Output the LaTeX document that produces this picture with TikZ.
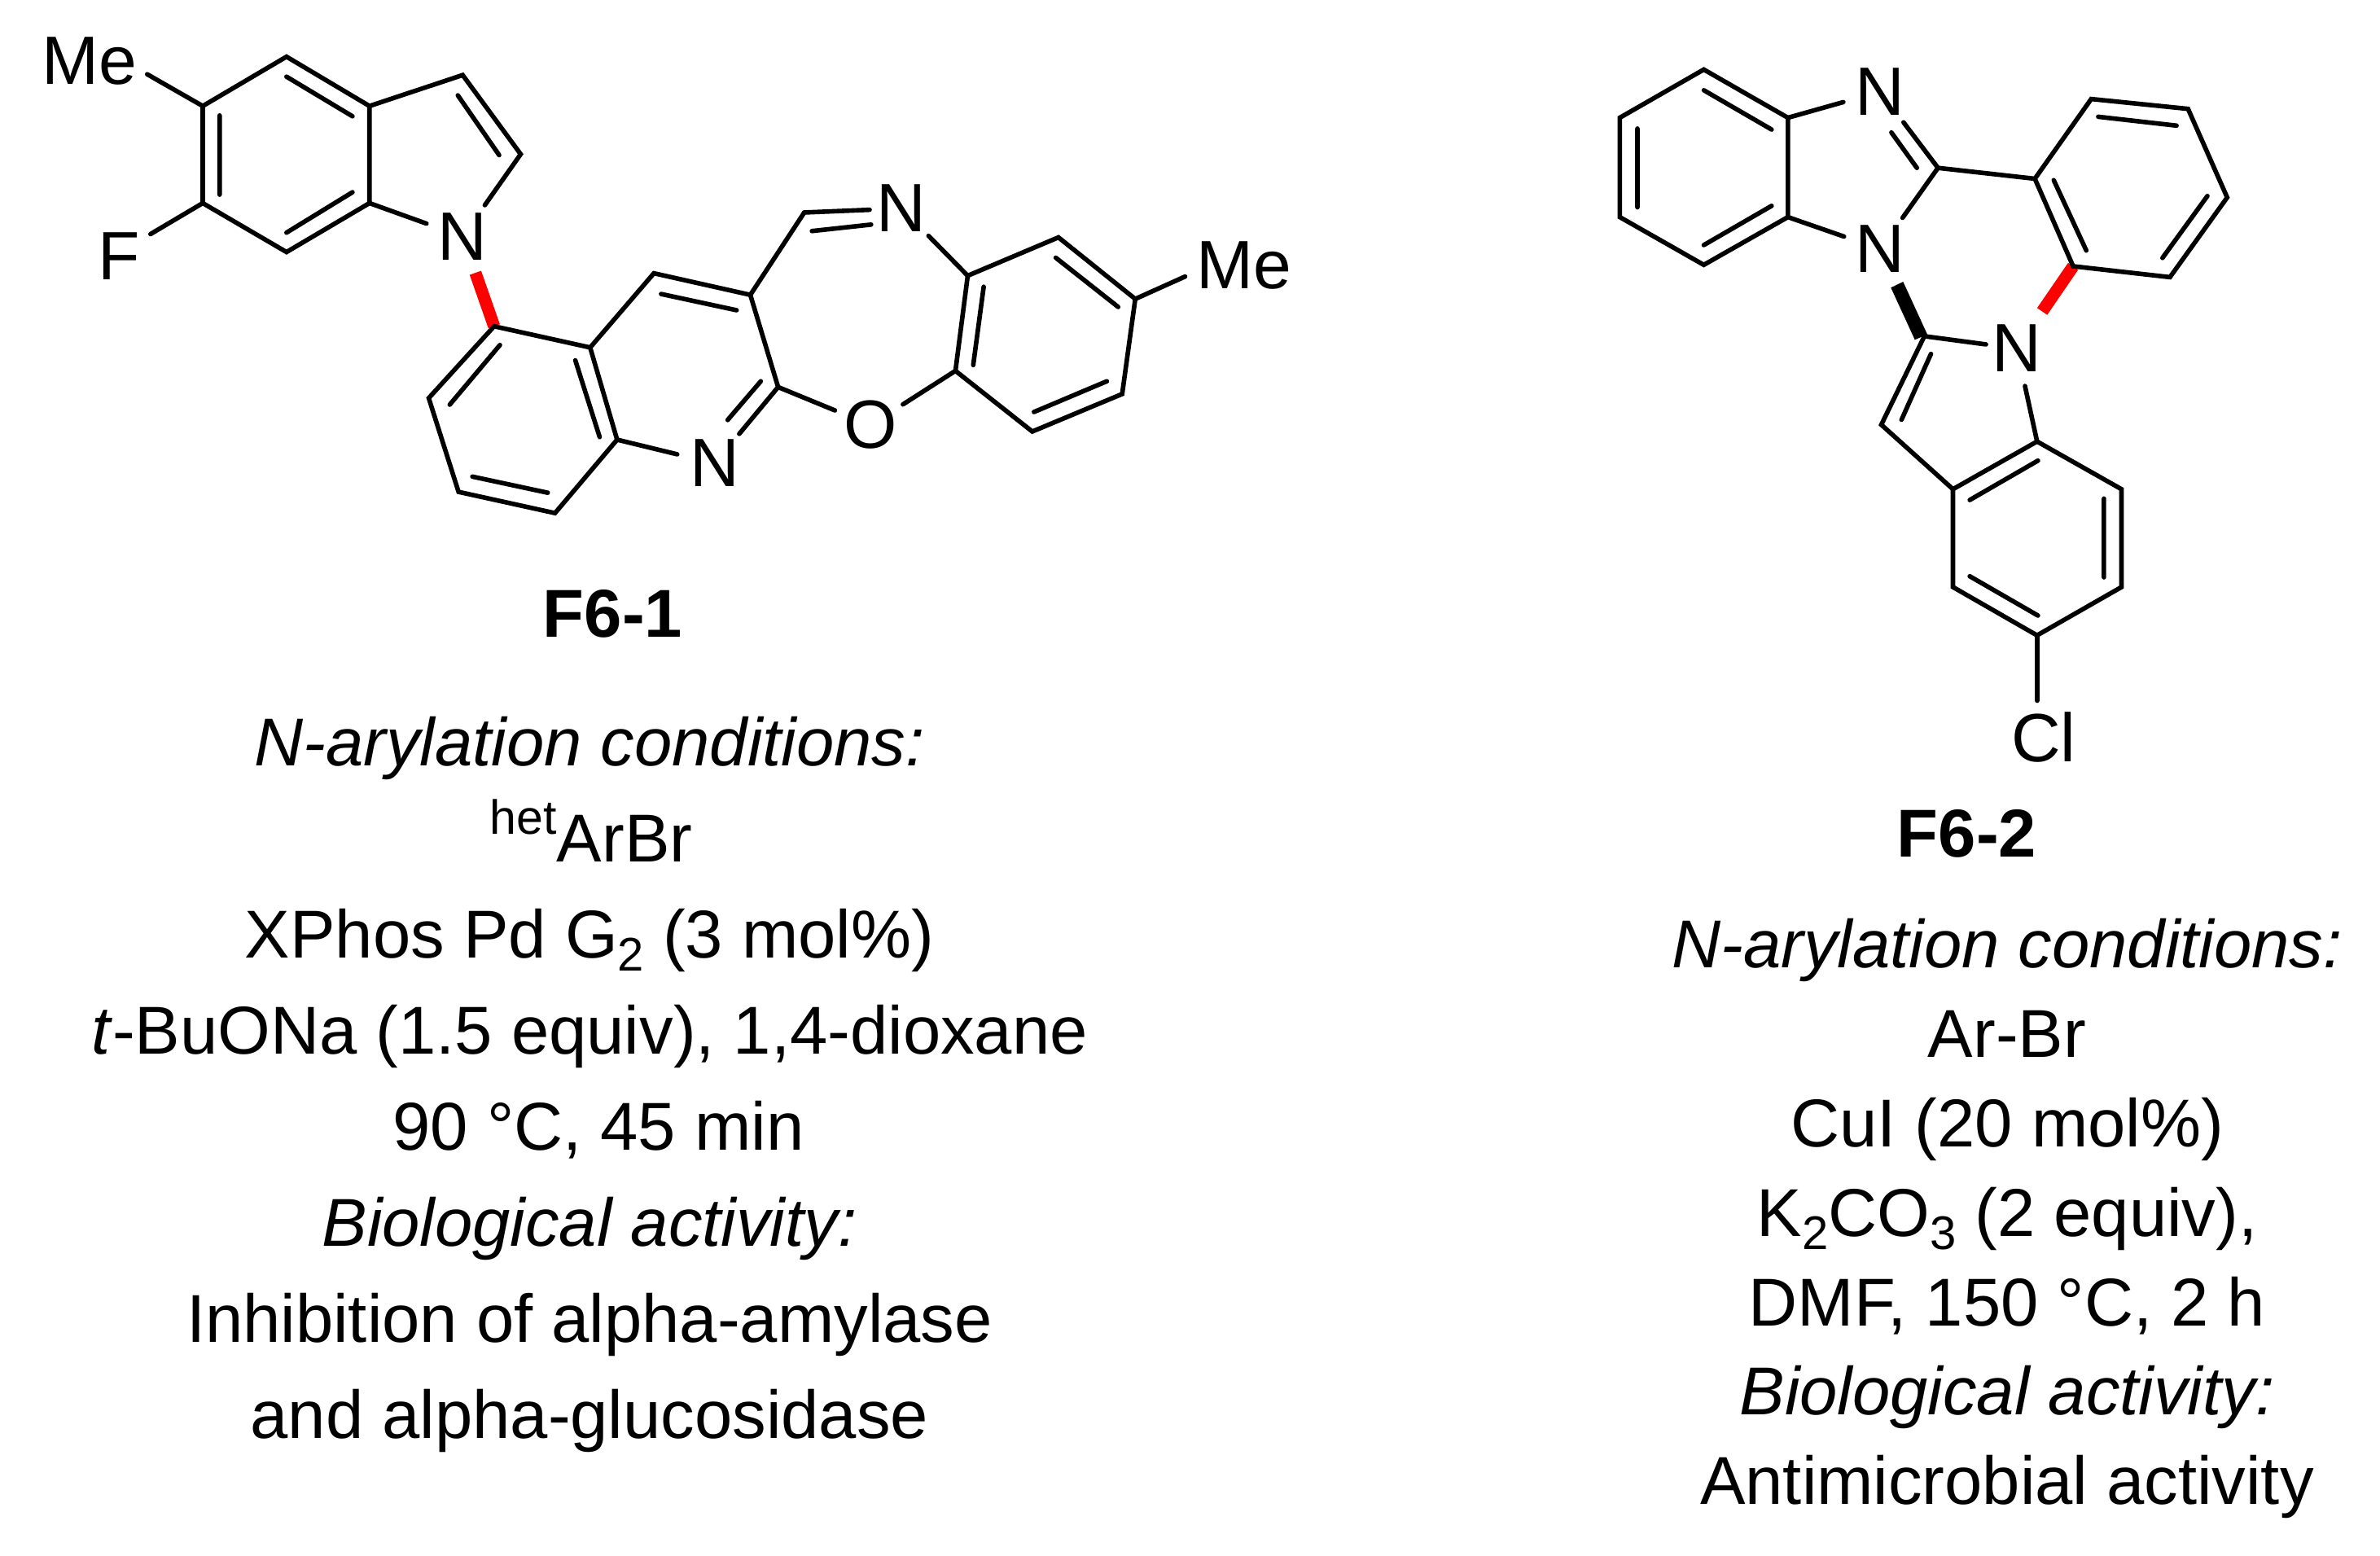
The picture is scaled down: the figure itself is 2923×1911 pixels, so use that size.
\documentclass[tikz,border=0pt]{standalone}
\usepackage{fontspec}
\setmainfont{Liberation Sans}
\newcommand{\lowdigit}[1]{\raisebox{-.2em}{\fontsize{58}{60}\selectfont #1}}
\newcommand{\highword}[1]{\raisebox{.4em}{\fontsize{59}{60}\selectfont #1}}
\tikzset{
  bond/.style={line width=5.6pt,line join=miter,line cap=round},
  inner/.style={line width=5.6pt,line cap=round},
  redbond/.style={line width=15pt,draw=red},
  atom/.style={circle,inner sep=0pt,minimum size=94pt,font=\fontsize{84}{90}\selectfont},
  lab/.style={inner sep=0pt,font=\fontsize{84}{90}\selectfont},
  txt/.style={inner sep=0pt,anchor=base,font=\fontsize{83.2}{90}\selectfont},
  cmpd/.style={inner sep=0pt,anchor=base,font=\fontsize{83.2}{90}\selectfont\bfseries},
}
\begin{document}
\begin{tikzpicture}[x=1pt,y=-1pt]
\useasboundingbox (0,0) rectangle (2923,1911);
% ---- F6-1 ----
\begin{scope}[xscale=1.0035,xshift=-0.9pt,yscale=1.0016]
\foreach \n/\x/\y in {a1/249/130,a2/351.5/69.5,a3/453/130,a4/453/249,a5/351.5/309,a6/249/249,
  p3/567/92,p2/638/189,
  b1/605.5/400,b2/723/426,b3/756/539,b4/680/629,b5/562/603,b6/525.5/488,
  c1/801/335,c2/919/361.5,c3/953/474.5,c4/985/260.5,
  d1/1185/338,d2/1296/291,d3/1390/366.5,d4/1374/483,d5/1264/529,d6/1170/454.6,
  me1end/181/91,fend/185/287,me2end/1451/339}
  {\coordinate (\n) at (\x,\y);}
\node[atom] (N1) at (567,290) {N};
\node[atom] (N2) at (875.3,568) {N};
\node[atom] (N3) at (1104,255.5) {N};
\node[atom] (O1) at (1066,521) {O};
\node[lab] (Me1) at (110,75) {Me};
\node[lab] (F1) at (147,314) {F};
\node[lab] (Me2) at (1523,325) {Me};
\draw[redbond] (N1)--(b1);
\draw[bond] (a1)--(a2)--(a3)--(a4)--(a5)--(a6)--cycle;
\draw[bond] (a1)--(me1end) (a6)--(fend);
\draw[bond] (a3)--(p3)--(p2)--(N1) (a4)--(N1);
\draw[bond] (b1)--(b2)--(b3)--(b4)--(b5)--(b6)--cycle;
\draw[bond] (b2)--(c1)--(c2)--(c3)--(N2) (b3)--(N2);
\draw[bond] (c2)--(c4);
\draw[bond,shorten >=-8pt] (c4)--(N3);
\draw[bond] (c3)--(O1);
\draw[bond] (N3)--(d1) (O1)--(d6);
\draw[bond] (d1)--(d2)--(d3)--(d4)--(d5)--(d6)--cycle;
\draw[bond] (d3)--(me2end);
\draw[inner] (351.5,94)--(432.3,142.6) (269.7,141.6)--(269.7,238.7) (432.3,235.7)--(351.5,285.3) (561.2,116.9)--(611.8,190.2);
\draw[inner] (810,360.5)--(902.4,380.4) (705,441.8)--(734.8,535.9) (612.8,423)--(551.3,496.2) (671.3,604.2)--(579,584.4);
\draw[inner] (932,467.5)--(891.4,515) (994.6,283.3)--(1067,275.4);
\draw[inner] (1204.8,351.6)--(1192,447.7) (1293,316)--(1369.4,376.4) (1355.5,467.5)--(1266.3,505.2);
\end{scope}
\node[cmpd] (t1) at (752.5,782) {F6-1};
\node[txt] (t2) at (724,940) {\itshape N-arylation conditions:};
\node[txt] (t3) at (726,1058) {\highword{het}ArBr};
\node[txt] (t4) at (724,1176) {XPhos Pd G\lowdigit{2} (3 mol\%)};
\node[txt] (t5) at (724,1294) {\textit{t}-BuONa (1.5 equiv), 1,4-dioxane};
\node[txt] (t6) at (735,1412) {90 °C, 45 min};
\node[txt] (t7) at (724,1530) {\itshape Biological activity:};
\node[txt] (t8) at (724,1648) {Inhibition of alpha-amylase};
\node[txt] (t9) at (724,1766) {and alpha-glucosidase};
% ---- F6-2 ----
\begin{scope}[shift={(1.5,1)}]
\foreach \n/\x/\y in {e1/2091/84.4,e2/1987.8/143.6,e3/1987.8/265.6,e4/2091/324.3,e5/2194.3/265.6,e6/2194.3/143.6,
  f1/2378.6/205.2,
  g1/2497.6/218.5,g2/2566.8/120.6,g3/2685.7/132.7,g4/2733.8/241.5,g5/2663.5/339.4,g6/2544.6/326,
  h1/2361.9/411.9,h2/2309/520.6,h3/2397/599.8,
  i1/2500.3/541.2,i2/2604/599.8,i3/2604/720,i4/2500.3/779.3,i5/2397/720,
  clend/2500.3/859.5,w1/2320.8/352.3,w2/2335.8/345,w3/2365.5/409.7,w4/2350.2/416.3}
  {\coordinate (\n) at (\x,\y);}
\node[atom] (N4) at (2307.8,111.6) {N};
\node[atom] (N5) at (2307.8,305) {N};
\node[atom] (N6) at (2475.4,427) {N};
\node[lab] (Cl1) at (2508.2,904) {Cl};
\draw[redbond,shorten >=8pt] (g6)--(N6);
\draw[bond] (e1)--(e2)--(e3)--(e4)--(e5)--(e6)--cycle;
\draw[bond] (e6)--(N4) (e5)--(N5);
\draw[bond] (N4)--(f1)--(N5) (f1)--(g1);
\draw[bond] (g1)--(g2)--(g3)--(g4)--(g5)--(g6)--cycle;
\fill (w1)--(w2)--(w3)--(w4)--cycle;
\draw[bond,shorten >=-9pt] (h1)--(N6);
\draw[bond] (h1)--(h2)--(h3) (N6)--(i1);
\draw[bond] (h3)--(i1)--(i2)--(i3)--(i4)--(i5)--cycle;
\draw[bond] (i4)--(clend);
\draw[inner] (2091,109.8)--(2174.3,158.1) (2009.5,156.9)--(2009.5,253.6) (2091,300)--(2174.3,251.8) (2321.4,161.7)--(2352.7,205.2);
\draw[inner] (2575.4,142.4)--(2671.6,153.3) (2520.8,220.3)--(2560.8,306.7) (2709.5,239.7)--(2654.3,315.8);
\draw[inner] (2370,433.6)--(2333.8,514.6) (2501.4,564.7)--(2417.6,613.1) (2582.4,611.3)--(2582.4,708) (2501.4,755)--(2417.6,706.7);
\end{scope}
\node[cmpd] (t10) at (2415.5,1052) {F6-2};
\node[txt] (t11) at (2465,1188.5) {\itshape N-arylation conditions:};
\node[txt] (t12) at (2465,1298.3) {Ar-Br};
\node[txt] (t13) at (2465,1408) {CuI (20 mol\%)};
\node[txt] (t14) at (2465,1518) {K\lowdigit{2}CO\lowdigit{3} (2 equiv),};
\node[txt] (t15) at (2465,1628) {DMF, 150 °C, 2 h};
\node[txt] (t16) at (2465,1737.5) {\itshape Biological activity:};
\node[txt] (t17) at (2465,1847.5) {Antimicrobial activity};
\end{tikzpicture}
\end{document}
